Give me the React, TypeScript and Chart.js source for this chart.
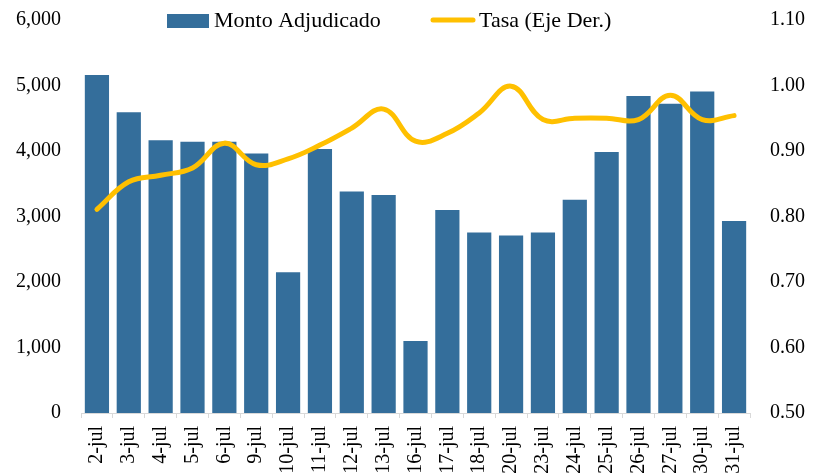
import React, { useEffect, useRef } from 'react';
import { Chart, registerables } from 'chart.js';

Chart.register(...registerables);

const categories = ['2-jul', '3-jul', '4-jul', '5-jul', '6-jul', '9-jul', '10-jul', '11-jul', '12-jul', '13-jul', '16-jul', '17-jul', '18-jul', '20-jul', '23-jul', '24-jul', '25-jul', '26-jul', '27-jul', '30-jul', '31-jul'];
const montoAdjudicado = [5160, 4590, 4165, 4140, 4140, 3960, 2150, 4030, 3380, 3330, 1100, 3100, 2755, 2710, 2755, 3255, 3985, 4840, 4720, 4910, 2930];
const tasa = [0.811, 0.853, 0.863, 0.874, 0.912, 0.879, 0.888, 0.909, 0.935, 0.964, 0.915, 0.927, 0.958, 0.999, 0.948, 0.95, 0.95, 0.948, 0.985, 0.948, 0.954];
const seriesLabels = ['Monto Adjudicado', 'Tasa (Eje Der.)'];
const leftAxis = { min: 0, max: 6000, step: 1000 };
const rightAxis = { min: 0.5, max: 1.1, step: 0.1 };

const BAR_COLOR = '#346E9B';
const LINE_COLOR = '#FFC000';
const FONT = '"Liberation Serif", "Times New Roman", serif';
const SHIFT = 12; // canvas is moved up by this many pixels

const legendPlugin = {
  id: 'customLegend',
  afterDraw(chart: any) {
    const ctx = chart.ctx;
    const ds = chart.data.datasets;
    ctx.save();
    ctx.font = `22px ${FONT}`;
    ctx.textBaseline = 'alphabetic';
    ctx.textAlign = 'left';
    ctx.fillStyle = ds[0].backgroundColor;
    ctx.fillRect(167, 14 + SHIFT, 42, 14);
    ctx.fillStyle = '#000';
    ctx.fillText(ds[0].label, 214, 27 + SHIFT);
    ctx.strokeStyle = ds[1].borderColor;
    ctx.lineWidth = 5;
    ctx.lineCap = 'round';
    ctx.beginPath();
    ctx.moveTo(433, 20 + SHIFT);
    ctx.lineTo(473, 20 + SHIFT);
    ctx.stroke();
    ctx.fillText(ds[1].label, 479, 27 + SHIFT);
    ctx.restore();
  },
};

export default function App() {
  const ref = useRef<HTMLCanvasElement>(null);
  useEffect(() => {
    if (!ref.current) return;
    const chart = new Chart(ref.current, {
      type: 'bar',
      data: {
        labels: categories,
        datasets: [
          {
            type: 'bar',
            label: seriesLabels[0],
            data: montoAdjudicado,
            backgroundColor: BAR_COLOR,
            yAxisID: 'y',
            order: 1,
            categoryPercentage: 1,
            barPercentage: 0.76,
          },
          {
            type: 'line',
            label: seriesLabels[1],
            data: tasa,
            borderColor: LINE_COLOR,
            backgroundColor: LINE_COLOR,
            borderWidth: 5,
            borderCapStyle: 'round',
            pointRadius: 0,
            tension: 0.4,
            yAxisID: 'y1',
            order: 0,
          } as any,
        ],
      },
      options: {
        responsive: false,
        animation: false,
        devicePixelRatio: 1,
        layout: { padding: { top: 10, left: 0, right: 0, bottom: 0 } },
        plugins: { legend: { display: false }, tooltip: { enabled: false } },
        scales: {
          x: {
            grid: { display: true, drawOnChartArea: false, drawTicks: true, tickLength: 5, color: '#D9D9D9', offset: true },
            border: { display: true, color: '#D9D9D9' },
            ticks: { autoSkip: false, minRotation: 90, maxRotation: 90, padding: 8, color: '#000', font: { family: FONT, size: 20 } },
            afterFit: (s: any) => { s.height = 63; },
          },
          y: {
            position: 'left',
            min: leftAxis.min,
            max: leftAxis.max,
            grid: { display: false, drawTicks: false },
            border: { display: false },
            ticks: {
              stepSize: leftAxis.step,
              padding: 20,
              color: '#000',
              font: { family: FONT, size: 20 },
              callback: (v: any) => Number(v).toLocaleString('en-US'),
            },
            afterFit: (s: any) => { s.width = 81; },
          },
          y1: {
            position: 'right',
            min: rightAxis.min,
            max: rightAxis.max,
            grid: { display: false, drawTicks: false },
            border: { display: false },
            ticks: {
              stepSize: rightAxis.step,
              padding: 20,
              color: '#000',
              font: { family: FONT, size: 20 },
              callback: (v: any) => Number(v).toFixed(2),
            },
            afterFit: (s: any) => { s.width = 67; },
          },
        },
      },
      plugins: [legendPlugin],
    } as any);
    return () => chart.destroy();
  }, []);
  return (
    <div style={{ position: 'absolute', left: 0, top: 0, width: 817, height: 476, overflow: 'hidden', background: '#fff' }}>
      <canvas ref={ref} width={817} height={476 + SHIFT} style={{ display: 'block', position: 'absolute', left: 0, top: -SHIFT }} />
    </div>
  );
}
